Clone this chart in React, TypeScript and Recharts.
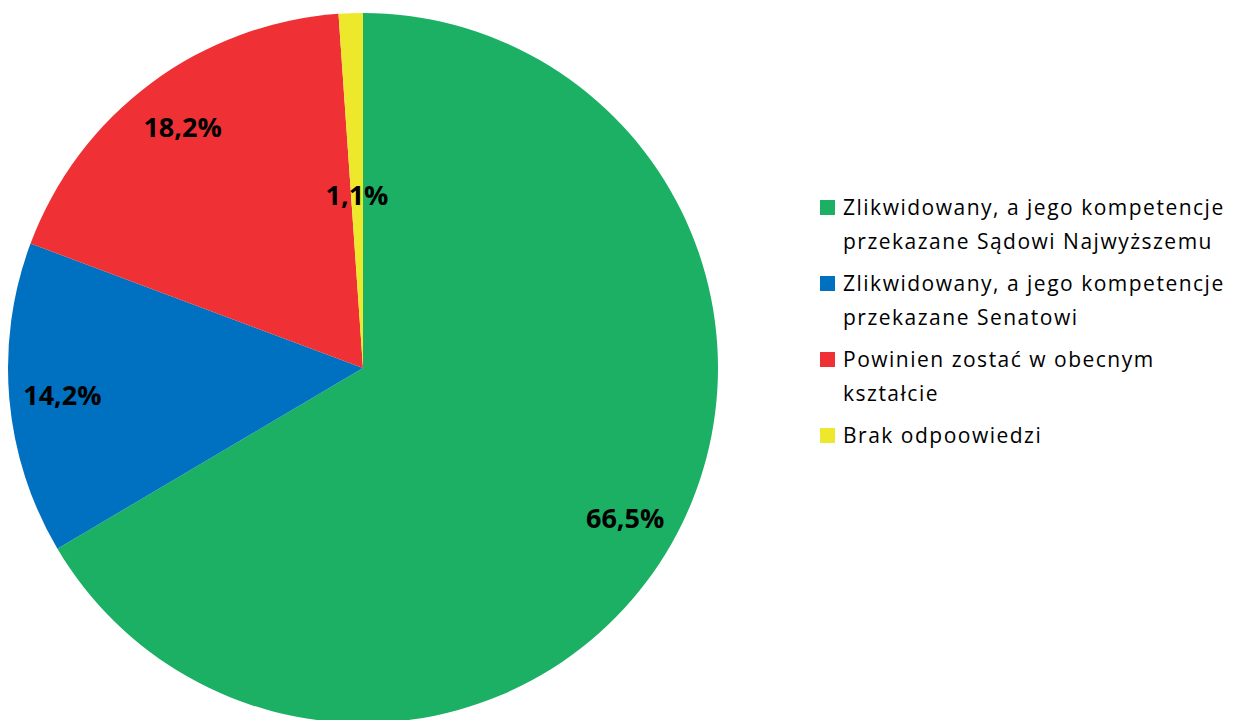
import { PieChart, Pie, Cell, Legend } from 'recharts';

const categories = [
  'Zlikwidowany, a jego kompetencje przekazane Sądowi Najwyższemu',
  'Zlikwidowany, a jego kompetencje przekazane Senatowi',
  'Powinien zostać w obecnym kształcie',
  'Brak odpoowiedzi',
];
const legendLines = [
  ['Zlikwidowany, a jego kompetencje', 'przekazane Sądowi Najwyższemu'],
  ['Zlikwidowany, a jego kompetencje', 'przekazane Senatowi'],
  ['Powinien zostać w obecnym', 'kształcie'],
  ['Brak odpoowiedzi'],
];
const values = [66.5, 14.2, 18.2, 1.1];
const colors = ['#1BB063', '#0070C0', '#EF3034', '#EDE82C'];

const data = categories.map((name, i) => ({ name, value: values[i] }));

const RADIAN = Math.PI / 180;

function renderLabel(props: any) {
  const { cx, cy, midAngle, outerRadius, percent, value } = props;
  const r = percent < 0.05 ? outerRadius * 0.49 : outerRadius * 0.85;
  const x = cx + r * Math.cos(-midAngle * RADIAN);
  const y = cy + r * Math.sin(-midAngle * RADIAN);
  return (
    <text
      x={x}
      y={y}
      textAnchor="middle"
      dominantBaseline="central"
      fill="#000"
      fontSize={27}
      fontWeight="bold"
      fontFamily="'Open Sans', sans-serif"
    >
      {value.toFixed(1).replace('.', ',') + '%'}
    </text>
  );
}

function LegendContent() {
  return (
    <div style={{ fontFamily: "'Open Sans', sans-serif", fontSize: 21, letterSpacing: 1.5, color: '#000' }}>
      {legendLines.map((lines, i) => (
        <div key={i} style={{ display: 'flex', alignItems: 'flex-start', marginBottom: 8 }}>
          <div style={{ width: 15, height: 15, background: colors[i], marginTop: 10, marginRight: 8, flexShrink: 0 }} />
          <div style={{ lineHeight: '34px' }}>
            {lines.map((l, j) => (
              <div key={j} style={{ whiteSpace: 'nowrap' }}>{l}</div>
            ))}
          </div>
        </div>
      ))}
    </div>
  );
}

export default function App() {
  return (
    <div style={{ position: 'absolute', left: 0, top: 0, width: 1237, height: 720, background: '#fff', overflow: 'hidden' }}>
      <PieChart width={1237} height={720} margin={{ top: 0, right: 0, bottom: 0, left: 0 }}>
        <Pie
          data={data}
          dataKey="value"
          nameKey="name"
          cx={363}
          cy={368}
          outerRadius={355}
          startAngle={90}
          endAngle={-270}
          stroke="none"
          label={renderLabel}
          labelLine={false}
          isAnimationActive={false}
        >
          {data.map((_, i) => (
            <Cell key={i} fill={colors[i]} />
          ))}
        </Pie>
        <Legend
          content={<LegendContent />}
          layout="vertical"
          wrapperStyle={{ position: 'absolute', left: 820, top: 190, width: 417 }}
        />
      </PieChart>
    </div>
  );
}
